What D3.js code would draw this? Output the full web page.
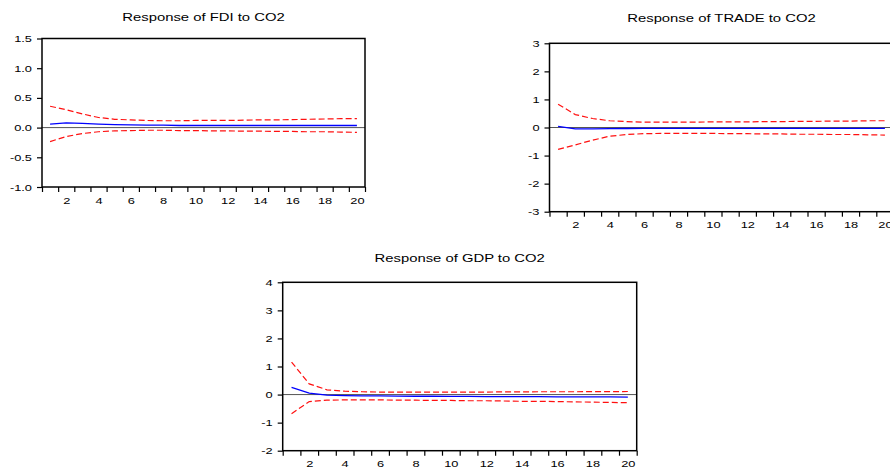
<!DOCTYPE html>
<html>
<head>
<meta charset="utf-8">
<style>
  body { margin: 0; background: #fff; }
  svg { display: block; font-family: "Liberation Sans", Arial, sans-serif; }
</style>
</head>
<body>
<div id="chart"></div>
<script src="https://cdn.jsdelivr.net/npm/d3@7"></script>
<script>
// periods 1..20
var periods = d3.range(1, 21);
var xLabels = [2, 4, 6, 8, 10, 12, 14, 16, 18, 20];

// Response of FDI to CO2
var fdiResp  = [0.06, 0.08, 0.07, 0.06, 0.05, 0.045, 0.04, 0.04, 0.035, 0.035, 0.035, 0.035, 0.035, 0.035, 0.035, 0.035, 0.035, 0.035, 0.035, 0.035];
var fdiUpper = [0.36, 0.30, 0.23, 0.17, 0.14, 0.13, 0.12, 0.115, 0.115, 0.12, 0.12, 0.12, 0.125, 0.13, 0.13, 0.135, 0.14, 0.145, 0.15, 0.15];
var fdiLower = [-0.235, -0.15, -0.10, -0.07, -0.055, -0.05, -0.045, -0.045, -0.05, -0.05, -0.055, -0.055, -0.06, -0.06, -0.065, -0.065, -0.07, -0.07, -0.075, -0.08];
var fdiTicks = [-1.0, -0.5, 0.0, 0.5, 1.0, 1.5];

// Response of TRADE to CO2
var tradeResp  = [0.04, -0.05, -0.05, -0.04, -0.035, -0.03, -0.03, -0.03, -0.03, -0.03, -0.03, -0.03, -0.03, -0.03, -0.03, -0.03, -0.03, -0.03, -0.03, -0.03];
var tradeUpper = [0.83, 0.46, 0.32, 0.24, 0.21, 0.19, 0.19, 0.19, 0.19, 0.2, 0.2, 0.2, 0.21, 0.21, 0.22, 0.22, 0.23, 0.23, 0.24, 0.24];
var tradeLower = [-0.78, -0.62, -0.45, -0.31, -0.25, -0.22, -0.21, -0.21, -0.21, -0.21, -0.22, -0.22, -0.23, -0.23, -0.24, -0.24, -0.25, -0.25, -0.26, -0.27];
var tradeTicks = [-3, -2, -1, 0, 1, 2, 3];

// Response of GDP to CO2
var gdpResp  = [0.26, 0.05, -0.02, -0.04, -0.05, -0.05, -0.055, -0.06, -0.06, -0.065, -0.065, -0.07, -0.07, -0.075, -0.075, -0.08, -0.08, -0.085, -0.085, -0.09];
var gdpUpper = [1.16, 0.38, 0.17, 0.12, 0.10, 0.09, 0.09, 0.09, 0.09, 0.09, 0.09, 0.09, 0.095, 0.095, 0.1, 0.1, 0.1, 0.105, 0.105, 0.11];
var gdpLower = [-0.68, -0.25, -0.20, -0.19, -0.19, -0.19, -0.2, -0.2, -0.21, -0.21, -0.22, -0.22, -0.23, -0.24, -0.24, -0.25, -0.26, -0.27, -0.28, -0.29];
var gdpTicks = [-2, -1, 0, 1, 2, 3, 4];

var W = 890, H = 473;
var stretch = 1.35;

// plain hyphen for negatives, like the original
var loc = d3.formatLocale({ decimal: ".", thousands: ",", grouping: [3], currency: ["", ""], minus: "-" });

var svg = d3.select("#chart").append("svg").attr("width", W).attr("height", H);

function panel(opt) {
  var x = d3.scaleLinear().domain([0.5, 20.5]).range([opt.left, opt.right]);
  var y = d3.scaleLinear().domain(opt.domain).range([opt.bottom, opt.top]);
  var g = svg.append("g");
  var cx = (opt.left + opt.right) / 2;

  // title
  g.append("text")
    .attr("x", cx)
    .attr("y", opt.titleY)
    .attr("text-anchor", "middle")
    .attr("font-size", 11)
    .attr("fill", "#000")
    .attr("transform", "translate(" + cx + ",0) scale(" + stretch + ",1) translate(" + (-cx) + ",0)")
    .text(opt.title);

  // zero line
  g.append("line")
    .attr("x1", opt.left).attr("x2", opt.right)
    .attr("y1", y(0)).attr("y2", y(0))
    .attr("stroke", "#555").attr("stroke-width", 1);

  var line = d3.line().x(function (d, i) { return x(periods[i]); }).y(function (d) { return y(d); });

  [opt.upper, opt.lower].forEach(function (s) {
    g.append("path").datum(s).attr("d", line)
      .attr("fill", "none").attr("stroke", "#ff1010")
      .attr("stroke-width", 1.2).attr("stroke-dasharray", "6,3");
  });
  g.append("path").datum(opt.resp).attr("d", line)
    .attr("fill", "none").attr("stroke", "#0000ff").attr("stroke-width", 1.3);

  // frame
  g.append("rect")
    .attr("x", opt.left).attr("y", opt.top)
    .attr("width", opt.right - opt.left).attr("height", opt.bottom - opt.top)
    .attr("fill", "none").attr("stroke", "#000").attr("stroke-width", 1.5);

  // y axis
  var ya = g.append("g").attr("transform", "translate(" + opt.left + ",0)")
    .call(d3.axisLeft(y).tickValues(opt.ticks).tickSize(5).tickPadding(5).tickFormat(opt.fmt));
  ya.select(".domain").remove();
  ya.selectAll("line").attr("stroke", "#000").attr("stroke-width", 1.2);
  ya.selectAll("text").attr("font-size", 9.5).attr("font-family", null).attr("fill", "#000")
    .attr("transform", "translate(-10,0) scale(" + stretch + ",1) translate(10,0)");

  // x axis marks at band edges
  var xa = g.append("g").attr("transform", "translate(0," + opt.bottom + ")")
    .call(d3.axisBottom(x).tickValues(d3.range(0.5, 21, 1)).tickSize(5).tickFormat(""));
  xa.select(".domain").remove();
  xa.selectAll("line").attr("stroke", "#000").attr("stroke-width", 1.2);

  // x labels at band centres
  var xl = g.append("g").attr("transform", "translate(0," + opt.bottom + ")")
    .call(d3.axisBottom(x).tickValues(xLabels).tickSize(0).tickPadding(10));
  xl.select(".domain").remove();
  xl.selectAll("text").attr("font-size", 9.5).attr("font-family", null).attr("fill", "#000")
    .attr("transform", "scale(" + stretch + ",1)");
}

panel({ title: "Response of FDI to CO2", left: 42, right: 365, top: 38.5, bottom: 187, titleY: 21,
  domain: [-1, 1.5], ticks: fdiTicks, fmt: loc.format(".1f"),
  resp: fdiResp, upper: fdiUpper, lower: fdiLower });

panel({ title: "Response of TRADE to CO2", left: 549.5, right: 893.5, top: 43.3, bottom: 211.7, titleY: 22,
  domain: [-3, 3], ticks: tradeTicks, fmt: loc.format("d"),
  resp: tradeResp, upper: tradeUpper, lower: tradeLower });

panel({ title: "Response of GDP to CO2", left: 282.7, right: 636.7, top: 282.3, bottom: 450.7, titleY: 262,
  domain: [-2, 4], ticks: gdpTicks, fmt: loc.format("d"),
  resp: gdpResp, upper: gdpUpper, lower: gdpLower });
</script>
</body>
</html>
